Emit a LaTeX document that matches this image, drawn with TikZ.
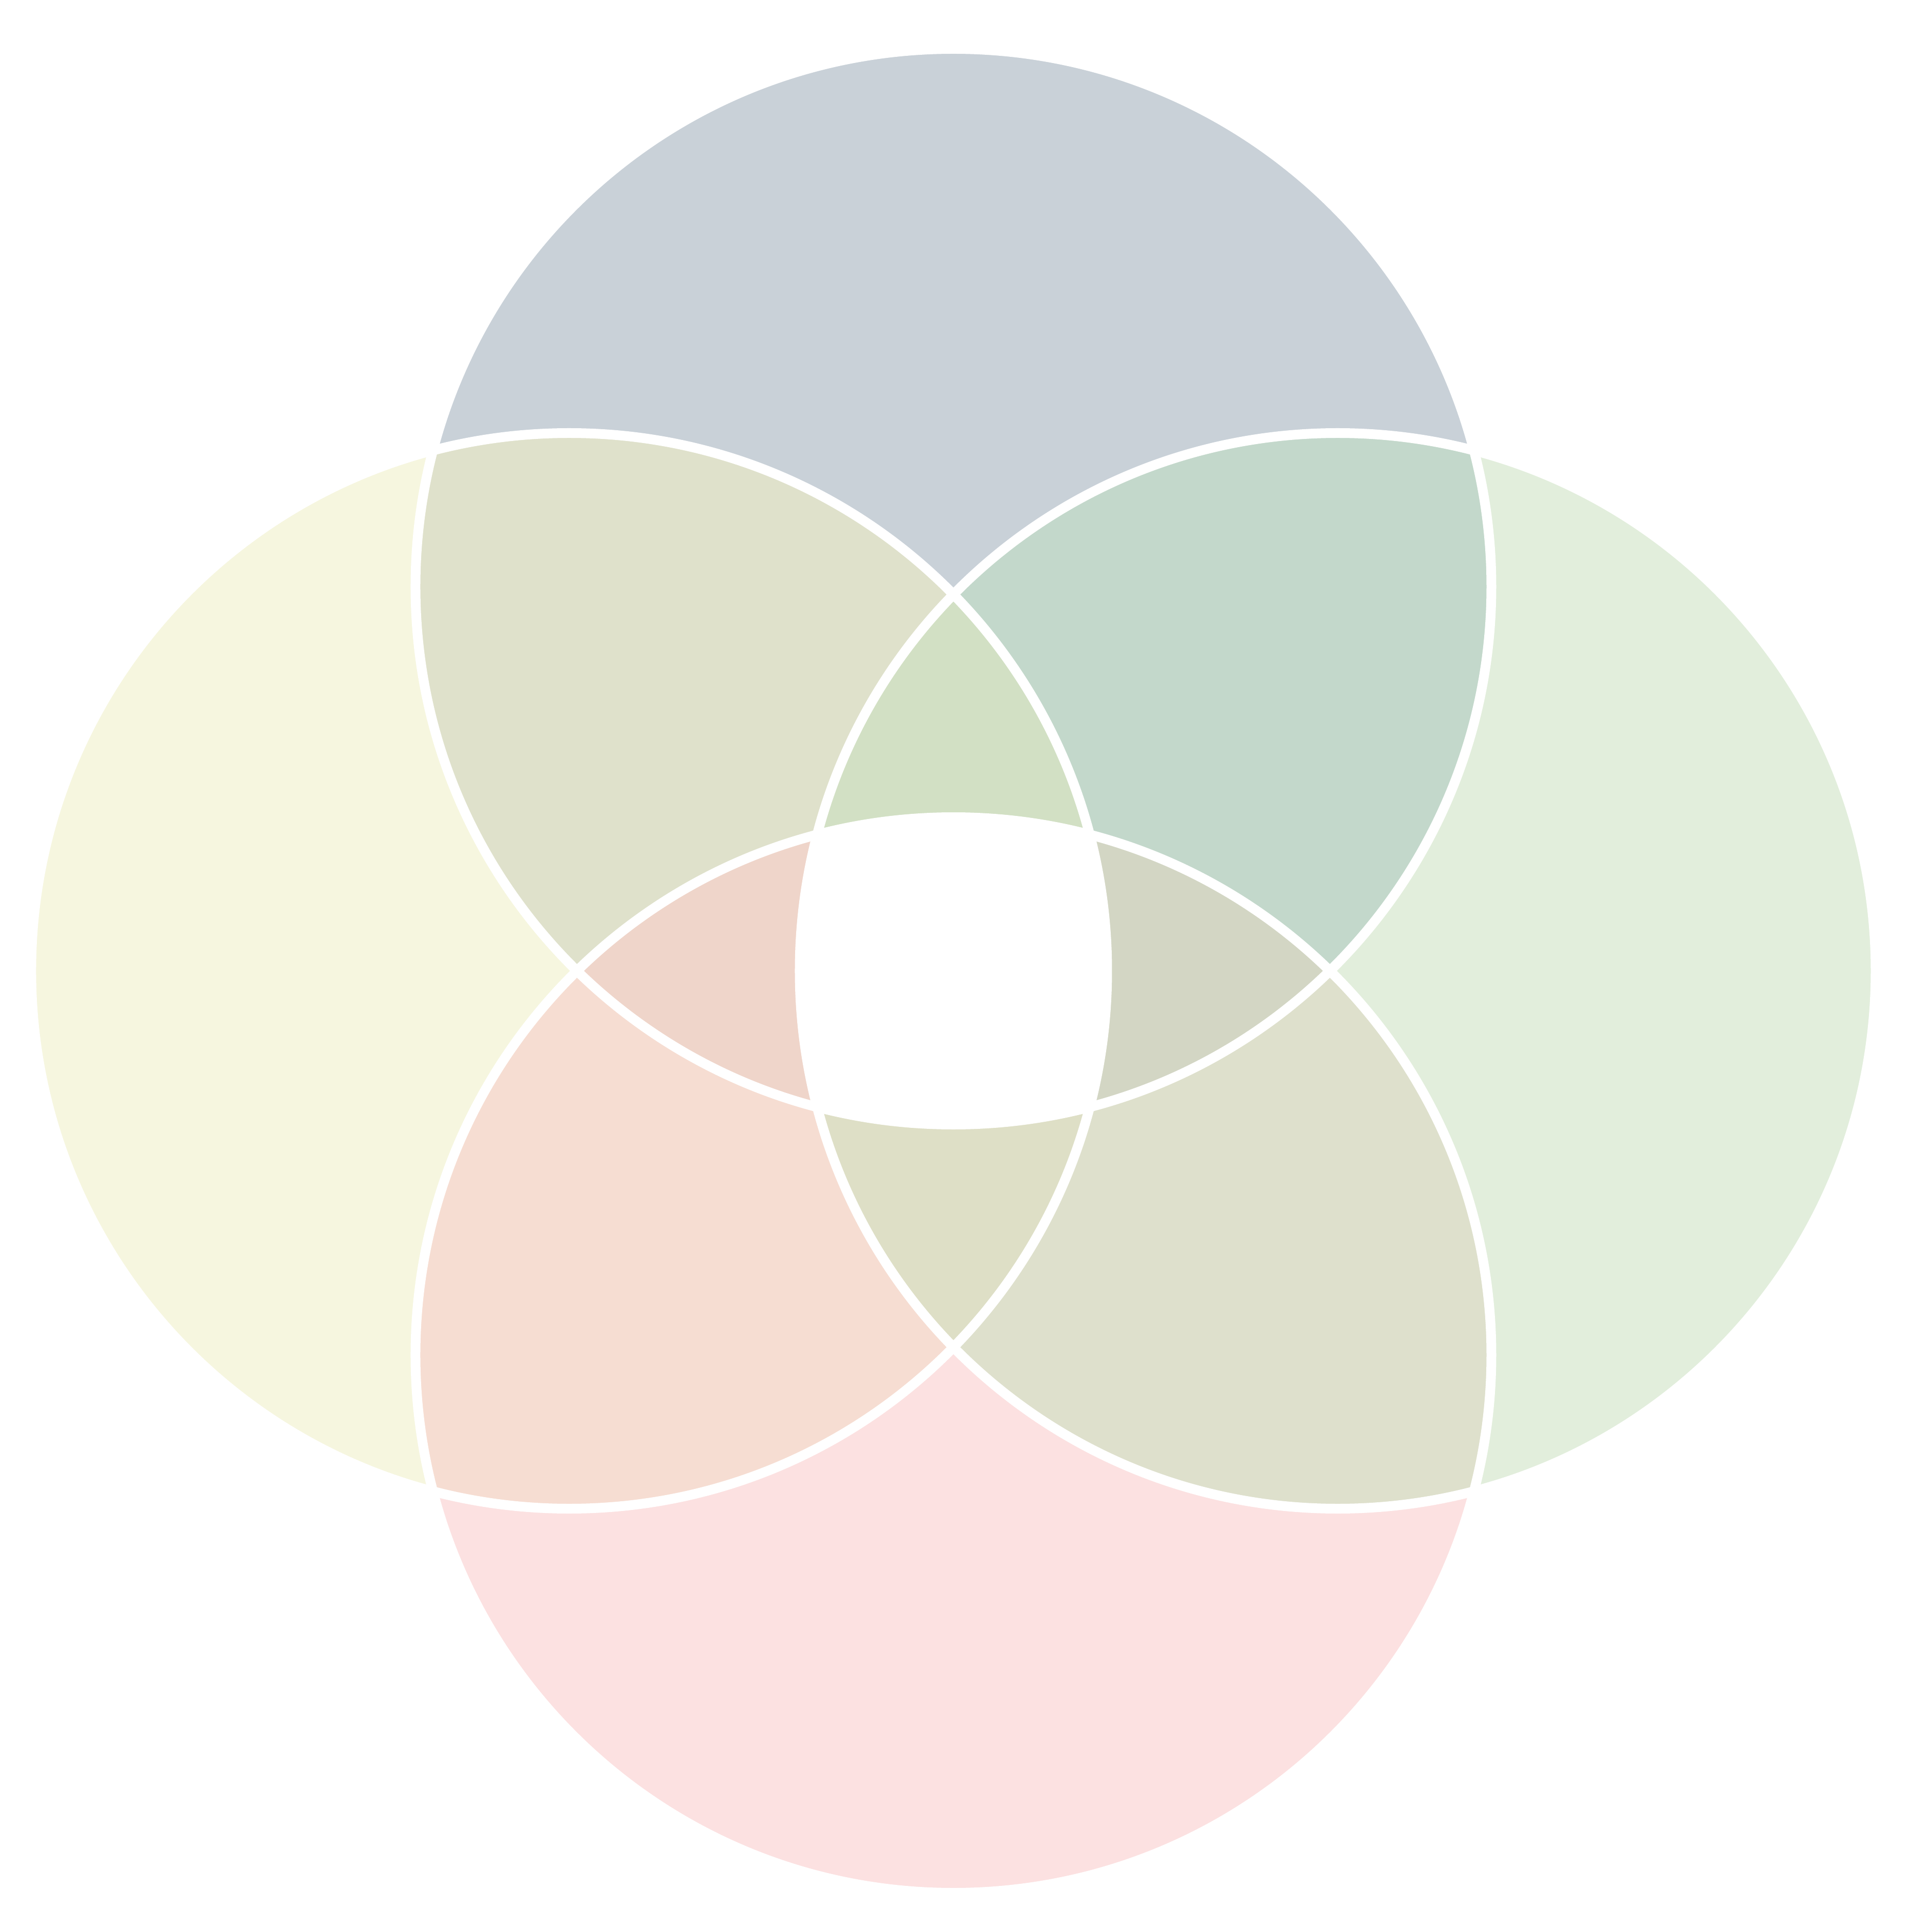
\documentclass[tikz,border=0pt]{standalone}
\usepackage{tikz}
\usepackage{xcolor}

\definecolor{cTop}{HTML}{C9D1D8}
\definecolor{cLeft}{HTML}{F6F6DF}
\definecolor{cRight}{HTML}{E2EEDC}
\definecolor{cBottom}{HTML}{FCE1E1}
\definecolor{cTopLeft}{HTML}{DFE1CB}
\definecolor{cTopRight}{HTML}{C3D8CB}
\definecolor{cBotLeft}{HTML}{F6DDD2}
\definecolor{cBotRight}{HTML}{DEE0CC}
\definecolor{cUpLens}{HTML}{D2E0C4}
\definecolor{cDownLens}{HTML}{DEDFC6}
\definecolor{cLeftLens}{HTML}{EFD5CA}
\definecolor{cRightLens}{HTML}{D3D6C4}

\begin{document}
\begin{tikzpicture}[
      ring/.style={draw=white, line width=0.19cm}
    ]
    \useasboundingbox (-18.61,-18.765) rectangle (18.70,18.955);

    % Centres
    \coordinate (up) at (0,7.5);
    \coordinate (down) at (0,-7.5);
    \coordinate (west) at (-7.5,0);
    \coordinate (east) at (7.5,0);

    % Single circles
    \fill[cTop] (up) circle (10.5);
    \fill[cLeft] (west) circle (10.5);
    \fill[cRight] (east) circle (10.5);
    \fill[cBottom] (down) circle (10.5);

    % Pairs
    \begin{scope}
      \clip (up) circle (10.5);
      \fill[cTopLeft] (west) circle (10.5);
      \fill[cTopRight] (east) circle (10.5);
    \end{scope}
    \begin{scope}
      \clip (down) circle (10.5);
      \fill[cBotLeft] (west) circle (10.5);
      \fill[cBotRight] (east) circle (10.5);
    \end{scope}

    % Triples
    \begin{scope}
      \clip (west) circle (10.5);
      \clip (east) circle (10.5);
      \fill[cUpLens] (up) circle (10.5);
      \fill[cDownLens] (down) circle (10.5);
    \end{scope}
    \begin{scope}
      \clip (up) circle (10.5);
      \clip (down) circle (10.5);
      \fill[cLeftLens] (west) circle (10.5);
      \fill[cRightLens] (east) circle (10.5);
    \end{scope}

    % All four
    \begin{scope}
      \clip (up) circle (10.5);
      \clip (down) circle (10.5);
      \clip (west) circle (10.5);
      \fill[white] (east) circle (10.5);
    \end{scope}

    % Outlines
    \draw[ring] (up) circle (10.5);
    \draw[ring] (west) circle (10.5);
    \draw[ring] (east) circle (10.5);
    \draw[ring] (down) circle (10.5);
  \end{tikzpicture}
\end{document}
